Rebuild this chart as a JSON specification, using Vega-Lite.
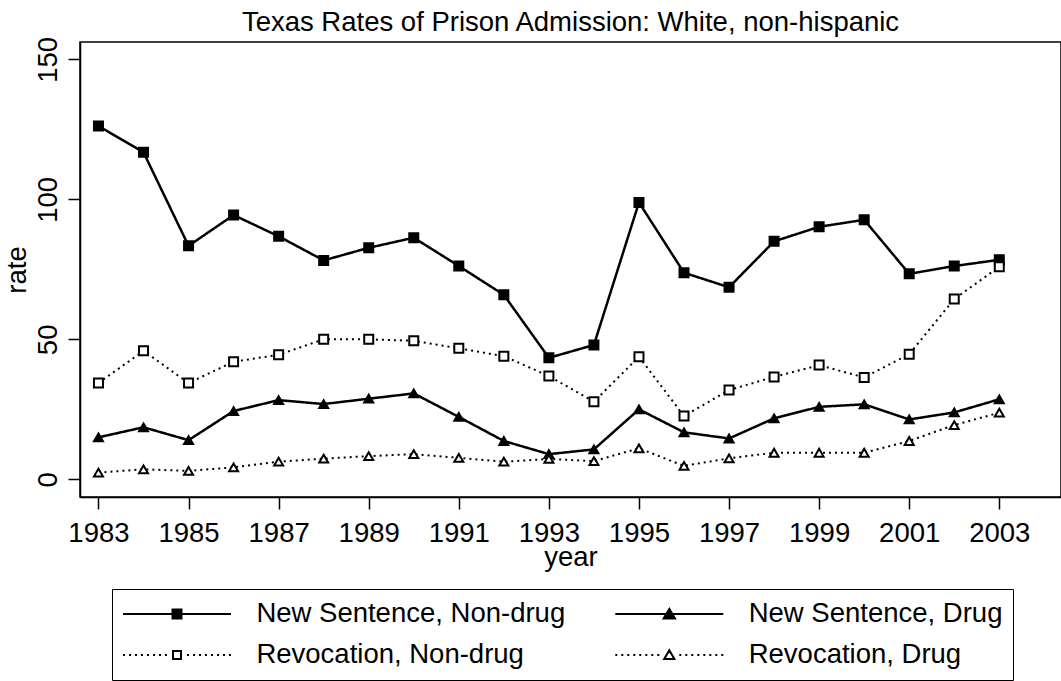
{
  "$schema": "https://vega.github.io/schema/vega-lite/v6.json",
  "width": 981,
  "height": 455,
  "autosize": {"type": "none"},
  "padding": {"left": 80, "top": 42, "right": 0, "bottom": 184},
  "background": "white",
  "title": {"text": "Texas Rates of Prison Admission: White, non-hispanic", "font": "Liberation Sans", "fontSize": 27.5, "fontWeight": "normal", "color": "black", "anchor": "middle", "frame": "group", "baseline": "alphabetic", "offset": 10, "dy": 32},
  "config": {
    "view": {"stroke": "black", "strokeWidth": 1.5},
    "axis": {"labelFont": "Liberation Sans", "titleFont": "Liberation Sans", "labelFontSize": 27.5, "titleFontSize": 27.5, "titleFontWeight": "normal", "labelColor": "black", "titleColor": "black", "tickColor": "black", "domainColor": "black", "tickSize": 12, "tickWidth": 1.5, "domainWidth": 1.5, "grid": false, "labelOverlap": false, "labelFlush": false}
  },
  "data": {"values": [
    {"year": 1983, "series": "New Sentence, Non-drug", "rate": 126.2},
    {"year": 1984, "series": "New Sentence, Non-drug", "rate": 116.8},
    {"year": 1985, "series": "New Sentence, Non-drug", "rate": 83.4},
    {"year": 1986, "series": "New Sentence, Non-drug", "rate": 94.4},
    {"year": 1987, "series": "New Sentence, Non-drug", "rate": 86.8},
    {"year": 1988, "series": "New Sentence, Non-drug", "rate": 78.2},
    {"year": 1989, "series": "New Sentence, Non-drug", "rate": 82.7},
    {"year": 1990, "series": "New Sentence, Non-drug", "rate": 86.3},
    {"year": 1991, "series": "New Sentence, Non-drug", "rate": 76.2},
    {"year": 1992, "series": "New Sentence, Non-drug", "rate": 65.9},
    {"year": 1993, "series": "New Sentence, Non-drug", "rate": 43.4},
    {"year": 1994, "series": "New Sentence, Non-drug", "rate": 48.0},
    {"year": 1995, "series": "New Sentence, Non-drug", "rate": 98.9},
    {"year": 1996, "series": "New Sentence, Non-drug", "rate": 73.8},
    {"year": 1997, "series": "New Sentence, Non-drug", "rate": 68.6},
    {"year": 1998, "series": "New Sentence, Non-drug", "rate": 85.0},
    {"year": 1999, "series": "New Sentence, Non-drug", "rate": 90.2},
    {"year": 2000, "series": "New Sentence, Non-drug", "rate": 92.7},
    {"year": 2001, "series": "New Sentence, Non-drug", "rate": 73.4},
    {"year": 2002, "series": "New Sentence, Non-drug", "rate": 76.2},
    {"year": 2003, "series": "New Sentence, Non-drug", "rate": 78.4},
    {"year": 1983, "series": "New Sentence, Drug", "rate": 15.0},
    {"year": 1984, "series": "New Sentence, Drug", "rate": 18.6},
    {"year": 1985, "series": "New Sentence, Drug", "rate": 14.0},
    {"year": 1986, "series": "New Sentence, Drug", "rate": 24.4},
    {"year": 1987, "series": "New Sentence, Drug", "rate": 28.3},
    {"year": 1988, "series": "New Sentence, Drug", "rate": 26.9},
    {"year": 1989, "series": "New Sentence, Drug", "rate": 28.8},
    {"year": 1990, "series": "New Sentence, Drug", "rate": 30.7},
    {"year": 1991, "series": "New Sentence, Drug", "rate": 22.3},
    {"year": 1992, "series": "New Sentence, Drug", "rate": 13.7},
    {"year": 1993, "series": "New Sentence, Drug", "rate": 9.0},
    {"year": 1994, "series": "New Sentence, Drug", "rate": 10.7},
    {"year": 1995, "series": "New Sentence, Drug", "rate": 25.0},
    {"year": 1996, "series": "New Sentence, Drug", "rate": 16.8},
    {"year": 1997, "series": "New Sentence, Drug", "rate": 14.6},
    {"year": 1998, "series": "New Sentence, Drug", "rate": 21.8},
    {"year": 1999, "series": "New Sentence, Drug", "rate": 25.9},
    {"year": 2000, "series": "New Sentence, Drug", "rate": 26.8},
    {"year": 2001, "series": "New Sentence, Drug", "rate": 21.4},
    {"year": 2002, "series": "New Sentence, Drug", "rate": 23.9},
    {"year": 2003, "series": "New Sentence, Drug", "rate": 28.6},
    {"year": 1983, "series": "Revocation, Non-drug", "rate": 34.4},
    {"year": 1984, "series": "Revocation, Non-drug", "rate": 45.9},
    {"year": 1985, "series": "Revocation, Non-drug", "rate": 34.4},
    {"year": 1986, "series": "Revocation, Non-drug", "rate": 42.0},
    {"year": 1987, "series": "Revocation, Non-drug", "rate": 44.5},
    {"year": 1988, "series": "Revocation, Non-drug", "rate": 50.0},
    {"year": 1989, "series": "Revocation, Non-drug", "rate": 50.0},
    {"year": 1990, "series": "Revocation, Non-drug", "rate": 49.5},
    {"year": 1991, "series": "Revocation, Non-drug", "rate": 46.8},
    {"year": 1992, "series": "Revocation, Non-drug", "rate": 44.0},
    {"year": 1993, "series": "Revocation, Non-drug", "rate": 36.9},
    {"year": 1994, "series": "Revocation, Non-drug", "rate": 27.7},
    {"year": 1995, "series": "Revocation, Non-drug", "rate": 43.8},
    {"year": 1996, "series": "Revocation, Non-drug", "rate": 22.6},
    {"year": 1997, "series": "Revocation, Non-drug", "rate": 31.9},
    {"year": 1998, "series": "Revocation, Non-drug", "rate": 36.6},
    {"year": 1999, "series": "Revocation, Non-drug", "rate": 40.8},
    {"year": 2000, "series": "Revocation, Non-drug", "rate": 36.4},
    {"year": 2001, "series": "Revocation, Non-drug", "rate": 44.7},
    {"year": 2002, "series": "Revocation, Non-drug", "rate": 64.4},
    {"year": 2003, "series": "Revocation, Non-drug", "rate": 75.9},
    {"year": 1983, "series": "Revocation, Drug", "rate": 2.4},
    {"year": 1984, "series": "Revocation, Drug", "rate": 3.6},
    {"year": 1985, "series": "Revocation, Drug", "rate": 3.0},
    {"year": 1986, "series": "Revocation, Drug", "rate": 4.3},
    {"year": 1987, "series": "Revocation, Drug", "rate": 6.3},
    {"year": 1988, "series": "Revocation, Drug", "rate": 7.4},
    {"year": 1989, "series": "Revocation, Drug", "rate": 8.3},
    {"year": 1990, "series": "Revocation, Drug", "rate": 9.0},
    {"year": 1991, "series": "Revocation, Drug", "rate": 7.7},
    {"year": 1992, "series": "Revocation, Drug", "rate": 6.3},
    {"year": 1993, "series": "Revocation, Drug", "rate": 7.3},
    {"year": 1994, "series": "Revocation, Drug", "rate": 6.5},
    {"year": 1995, "series": "Revocation, Drug", "rate": 11.1},
    {"year": 1996, "series": "Revocation, Drug", "rate": 4.8},
    {"year": 1997, "series": "Revocation, Drug", "rate": 7.5},
    {"year": 1998, "series": "Revocation, Drug", "rate": 9.5},
    {"year": 1999, "series": "Revocation, Drug", "rate": 9.5},
    {"year": 2000, "series": "Revocation, Drug", "rate": 9.5},
    {"year": 2001, "series": "Revocation, Drug", "rate": 13.7},
    {"year": 2002, "series": "Revocation, Drug", "rate": 19.4},
    {"year": 2003, "series": "Revocation, Drug", "rate": 23.8}
  ]},
  "encoding": {
    "x": {"field": "year", "type": "quantitative", "scale": {"domain": [1982.59, 2004.37], "nice": false, "zero": false},
      "axis": {"values": [1983, 1985, 1987, 1989, 1991, 1993, 1995, 1997, 1999, 2001, 2003], "format": "d", "labelBaseline": "alphabetic", "labelPadding": 32.7, "title": "year", "titleX": 490.5, "titleY": 68, "titleBaseline": "alphabetic", "titleAlign": "center"}},
    "y": {"field": "rate", "type": "quantitative", "scale": {"domain": [-6.3, 156.2], "nice": false, "zero": false},
      "axis": {"values": [0, 50, 100, 150], "labelAngle": 270, "labelAlign": "center", "labelBaseline": "alphabetic", "labelPadding": 11.6, "title": "rate", "titleX": -55, "titleY": 227.5, "titleAngle": 270, "titleBaseline": "alphabetic", "titleAlign": "center"}}
  },
  "layer": [
    {
      "mark": {"type": "line", "strokeCap": "butt", "color": "black"},
      "encoding": {
        "detail": {"field": "series", "type": "nominal"},
        "strokeDash": {"condition": {"test": "indexof(datum.series, 'New') === 0", "value": [1, 0]}, "value": [2, 4]},
        "strokeWidth": {"condition": {"test": "indexof(datum.series, 'New') === 0", "value": 2.5}, "value": 2}
      }
    },
    {
      "mark": {"type": "point", "filled": true, "stroke": "black", "strokeWidth": 2, "opacity": 1, "size": 81},
      "encoding": {
        "shape": {"condition": {"test": "indexof(datum.series, 'Non-drug') >= 0", "value": "square"}, "value": "triangle-up"},
        "fill": {"condition": {"test": "indexof(datum.series, 'New') === 0", "value": "black"}, "value": "white"}
      }
    },
    {
      "mark": {"type": "point", "filled": true, "strokeWidth": 2, "opacity": 0},
      "encoding": {
        "shape": {"field": "series", "type": "nominal",
          "scale": {"domain": ["New Sentence, Non-drug", "New Sentence, Drug", "Revocation, Non-drug", "Revocation, Drug"],
            "range": [
              "M-1,0H1M-0.083,-0.083H0.083V0.083H-0.083Z",
              "M-1,0H1M0,-0.095L0.105,0.085L-0.105,0.085Z",
              "M-1,0h0.037M-0.889,0h0.037M-0.778,0h0.037M-0.667,0h0.037M-0.556,0h0.037M-0.444,0h0.037M-0.333,0h0.037M-0.222,0h0.037M0.185,0h0.037M0.296,0h0.037M0.407,0h0.037M0.519,0h0.037M0.63,0h0.037M0.741,0h0.037M0.852,0h0.037M0.963,0h0.037M-0.074,-0.074H0.074V0.074H-0.074Z",
              "M-1,0h0.037M-0.889,0h0.037M-0.778,0h0.037M-0.667,0h0.037M-0.556,0h0.037M-0.444,0h0.037M-0.333,0h0.037M-0.222,0h0.037M0.185,0h0.037M0.296,0h0.037M0.407,0h0.037M0.519,0h0.037M0.63,0h0.037M0.741,0h0.037M0.852,0h0.037M0.963,0h0.037M0,-0.09L0.095,0.075L-0.095,0.075Z"
            ]},
          "legend": {
            "orient": "none", "legendX": 32, "legendY": 547, "direction": "horizontal", "columns": 2, "columnPadding": 48.3, "rowPadding": 11, "clipHeight": 30, "padding": 10,
            "strokeColor": "black", "fillColor": "white", "title": null,
            "labelFont": "Liberation Sans", "labelFontSize": 27.5, "labelColor": "black", "labelOffset": 24.4, "labelLimit": 600,
            "symbolSize": 11664, "symbolStrokeWidth": 2, "symbolOpacity": 1
          }},
        "fill": {"field": "series", "type": "nominal",
          "scale": {"domain": ["New Sentence, Non-drug", "New Sentence, Drug", "Revocation, Non-drug", "Revocation, Drug"], "range": ["black", "black", "white", "white"]},
          "legend": null},
        "stroke": {"field": "series", "type": "nominal",
          "scale": {"domain": ["New Sentence, Non-drug", "New Sentence, Drug", "Revocation, Non-drug", "Revocation, Drug"], "range": ["black", "black", "black", "black"]},
          "legend": null}
      }
    }
  ]
}
